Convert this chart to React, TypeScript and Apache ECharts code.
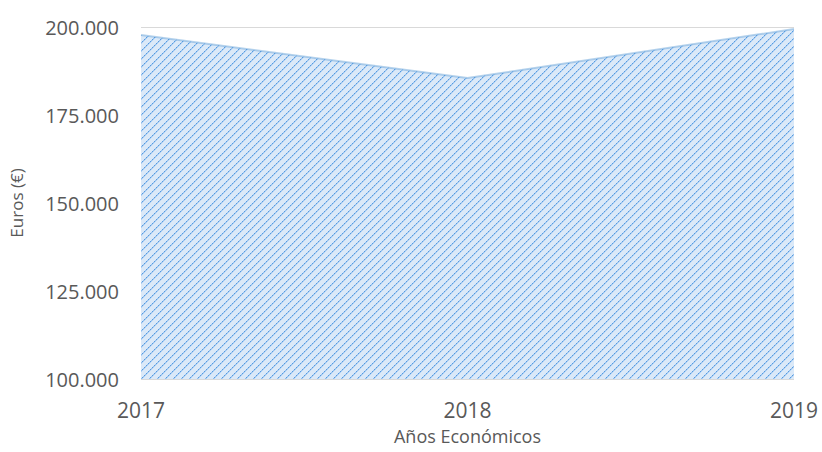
import React, { useEffect, useRef } from "react";
import * as echarts from "echarts";

const categories = ["2017", "2018", "2019"];
const values = [197700, 185500, 199400];
const yTicks = { min: 100000, max: 200000, interval: 25000 };

function makePattern(): string {
  const size = 8;
  const c = document.createElement("canvas");
  c.width = size;
  c.height = size;
  const ctx = c.getContext("2d")!;
  ctx.fillStyle = "#dbe9f8";
  ctx.fillRect(0, 0, size, size);
  for (let i = 0; i < size; i++) {
    const y = size - 1 - i;
    ctx.fillStyle = i % 2 === 0 ? "#579be0" : "#8fbeee";
    ctx.fillRect(i, y, 1, 1);
    ctx.fillStyle = "#b0d1f3";
    ctx.fillRect((i + 1) % size, y, 1, 1);
  }
  return c.toDataURL();
}

export default function App() {
  const ref = useRef<HTMLDivElement>(null);
  useEffect(() => {
    document.body.style.margin = "0";
    if (!ref.current) return;
    const chart = echarts.init(ref.current, null, { renderer: "svg" });
    const pattern = makePattern();
    const fmt = (v: number) => String(v).replace(/\B(?=(\d{3})+(?!\d))/g, ".");
    chart.setOption({
      animation: false,
      textStyle: { fontFamily: "Open Sans" },
      grid: {
        left: 141,
        right: 28,
        top: 27,
        bottom: 73,
        containLabel: false,
        outerBoundsMode: "none",
      },
      xAxis: {
        type: "category",
        data: categories,
        boundaryGap: false,
        axisLine: { show: false },
        axisTick: { show: false },
        axisLabel: { color: "#595959", fontSize: 21, margin: 20 },
        name: "Años Económicos",
        nameLocation: "middle",
        nameGap: 48,
        nameTextStyle: { color: "#595959", fontSize: 18 },
      },
      yAxis: {
        type: "value",
        min: yTicks.min,
        max: yTicks.max,
        interval: yTicks.interval,
        axisLine: { show: false },
        axisTick: { show: false },
        splitLine: { show: true, lineStyle: { color: "#d9d9d9", width: 1 } },
        axisLabel: { color: "#595959", fontSize: 20, margin: 22, formatter: fmt },
        name: "Euros (€)",
        nameLocation: "middle",
        nameGap: 116,
        nameTextStyle: { color: "#595959", fontSize: 17 },
      },
      series: [
        {
          type: "line",
          data: values,
          symbol: "none",
          lineStyle: { color: "rgba(91,155,213,0.45)", width: 2 },
          areaStyle: {
            color: { image: pattern, repeat: "repeat" },
            opacity: 1,
          },
        },
      ],
    });
    return () => chart.dispose();
  }, []);
  return <div ref={ref} style={{ width: 822, height: 452 }} />;
}
